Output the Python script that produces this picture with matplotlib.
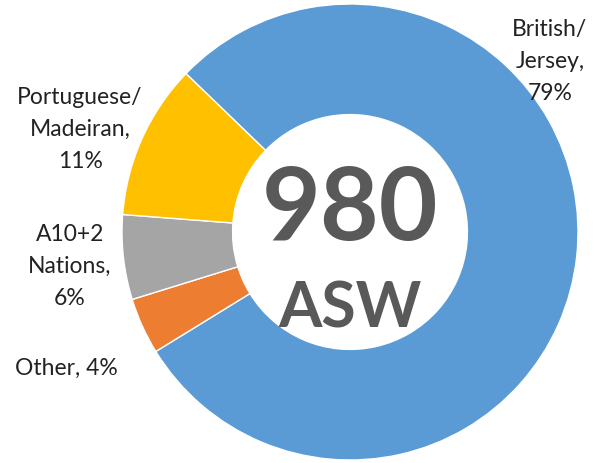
import matplotlib.pyplot as plt

# donut data (share of ASW by nationality)
groups = ['British/\nJersey,\n79%', 'Other, 4%', 'A10+2\nNations,\n6%', 'Portuguese/\nMadeiran,\n11%']
shares = [79, 4, 6, 11]
colors = ['#5B9BD5', '#ED7D31', '#A5A5A5', '#FFC000']
total = '980'
unit = 'ASW'

# label anchor points (data coords, pie radius = 1)
label_pos = [(0.877, 0.746), (-1.245, -0.596), (-1.228, -0.150), (-1.184, 0.450)]

plt.rcParams['font.family'] = ['Lato', 'DejaVu Sans']

fig = plt.figure(figsize=(5.96, 4.63), dpi=100)
ax = fig.add_axes([0, 0, 1, 1])

ax.pie(shares, colors=colors, startangle=136, counterclock=False,
       wedgeprops=dict(width=0.485, edgecolor='white', linewidth=1.0))

for txt, (x, y) in zip(groups, label_pos):
    ax.text(x, y, txt, ha='center', va='center', fontsize=16.5,
            color='#222222', linespacing=1.65)

ax.text(0, -0.035, total, ha='center', va='baseline', fontsize=73,
        fontweight='bold', color='#595959')
ax.text(0, -0.421, unit, ha='center', va='baseline', fontsize=45,
        fontweight='bold', color='#595959')

ax.set_xlim(-350 / 228, 246 / 228)
ax.set_ylim(-231 / 228, 232 / 228)
ax.axis('off')

fig.savefig('out.png', dpi=100)
